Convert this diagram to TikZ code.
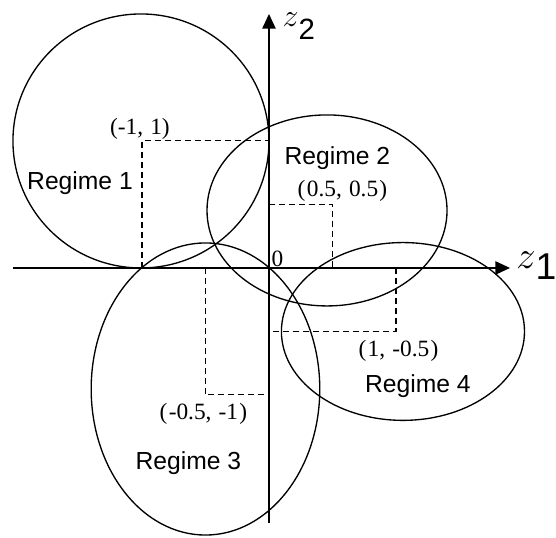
\documentclass[tikz,border=0pt]{standalone}
\usepackage{fix-cm}
\usepackage{fontspec}
\setmainfont{Liberation Serif}
\newfontfamily\gothicfont{Liberation Sans}
\usetikzlibrary{arrows.meta}

\begin{document}
\begin{tikzpicture}[
    x=95.25pt, y=95.25pt,
    every node/.style={inner sep=0pt},
    axis/.style={-{Triangle[length=11pt,width=10pt]}, line width=1.1pt},
    regime/.style={line width=1pt},
    guide/.style={line width=0.8pt, dash pattern=on 4.5pt off 3pt},
    regimelabel/.style={anchor=base, font=\gothicfont\fontsize{18.5}{20}\selectfont},
    pointlabel/.style={anchor=base, font=\fontsize{17.5}{19}\selectfont},
    axislabel/.style={anchor=base west},
]

%% ── Canvas ───────────────────────────────────────────────────────────────────
\useasboundingbox (-2.118,-2.126) rectangle (2.260,2.110);

%% ── Regime centres ───────────────────────────────────────────────────────────
\coordinate (o)  at (0,0);
\coordinate (c1) at (-1,1);
\coordinate (c2) at (0.5,0.5);
\coordinate (c3) at (-0.5,-1);
\coordinate (c4) at (1,-0.5);

%% ── Dashed guides to the centres ────────────────────────────────────────────
\draw[guide] (c1 |- o) -- (c1) -- (c1 -| o);
\draw[guide] (c2 -| o) -- (c2) -- (c2 |- o);
\draw[guide] (c3 |- o) -- (c3) -- (c3 -| o);
\draw[guide] (c4 |- o) -- (c4) -- (c4 -| o);

%% ── Regime regions ───────────────────────────────────────────────────────────
\draw[regime] (-1.008,1.0)   ellipse [x radius=1.008, y radius=1.0];
\draw[regime] (0.457,0.453)  ellipse [x radius=0.945, y radius=0.752];
\draw[regime] (-0.5,-0.953)  ellipse [x radius=0.90, y radius=1.15];
\draw[regime] (1.055,-0.50)  ellipse [x radius=0.957, y radius=0.70];

%% ── Axes ─────────────────────────────────────────────────────────────────────
\coordinate (xlo) at (-2.016,0);
\coordinate (xhi) at (1.898,0);
\coordinate (ylo) at (0,-2.008);
\coordinate (yhi) at (0,2.0);
\draw[axis] (xlo) -- (xhi);
\draw[axis] (ylo) -- (yhi);

\node[axislabel, font=\gothicfont\fontsize{28}{30}\selectfont]
  (zone) at (1.945,-0.087) {\raisebox{8pt}{\fontsize{29}{31}\selectfont$z$}1};
\node[axislabel, font=\gothicfont\fontsize{22}{24}\selectfont]
  (ztwo) at (0.105,1.80) {\raisebox{10pt}{\fontsize{24}{26}\selectfont$z$}2};

%% ── Labels ───────────────────────────────────────────────────────────────────
\node[pointlabel] (zero) at (0.067,0.008) {0};
\node[pointlabel] (l1) at (-1.016,1.047) {(-1,\kern1pt{} 1)};
\node[pointlabel] (l2) at (0.579,0.559)  {(\kern1pt0.5,\kern1pt{} 0.5\kern1pt)};
\node[pointlabel] (l3) at (-0.516,-1.19) {(\kern1pt-0.5,\kern1pt{} -1\kern1pt)};
\node[pointlabel] (l4) at (1.02,-0.70)   {(\kern1pt1,\kern1pt{} -0.5\kern1pt)};

\node[regimelabel] (r1) at (-1.488,0.614) {Regime 1};
\node[regimelabel] (r2) at (0.539,0.811)  {Regime 2};
\node[regimelabel] (r3) at (-0.634,-1.59) {Regime 3};
\node[regimelabel] (r4) at (1.173,-0.984) {Regime 4};

\end{tikzpicture}
\end{document}
